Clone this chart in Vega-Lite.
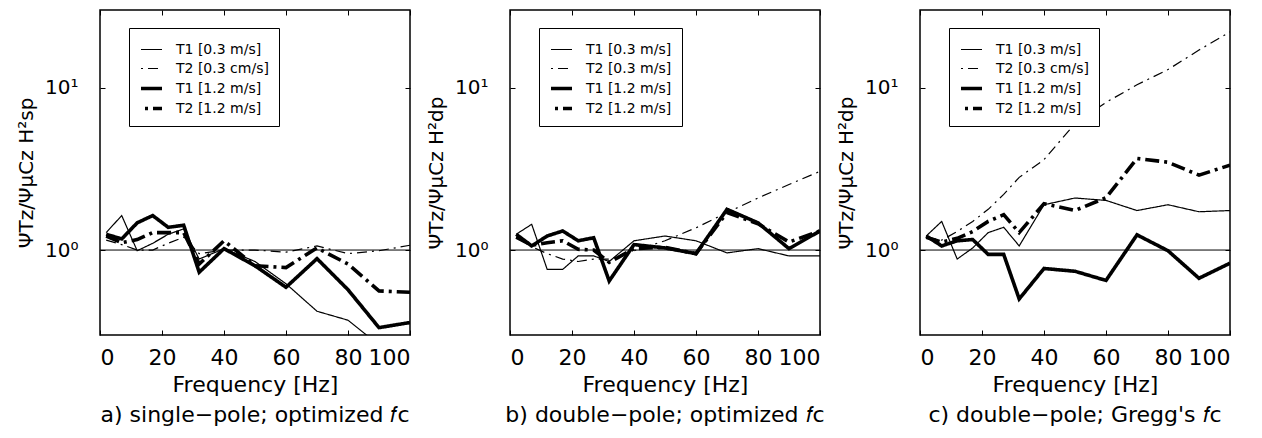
{
  "$schema": "https://vega.github.io/schema/vega-lite/v6.json",
  "padding": {"left": 15, "top": 8, "right": 5, "bottom": 2},
  "config": {
    "font": "DejaVu Sans",
    "view": {"stroke": "black", "strokeWidth": 1.5},
    "axis": {"grid": false, "domain": false, "tickColor": "black", "labelColor": "black", "titleColor": "black", "titleFontWeight": "normal", "labelFont": "DejaVu Sans", "titleFont": "DejaVu Sans"},
    "legend": {"title": null, "orient": "none", "legendX": 29, "legendY": 18, "strokeColor": "black", "fillColor": "white", "padding": 10, "symbolType": "stroke", "symbolSize": 441, "symbolStrokeColor": "black", "symbolDashOffset": 15, "labelFontSize": 14, "labelColor": "black", "labelOffset": 12, "rowPadding": -5},
    "title": {"fontSize": 22, "fontWeight": "normal", "color": "black", "font": "DejaVu Sans"}
  },
  "data": {"values": [
    {"panel":"a","series":"T1 [0.3 m/s]","f":2,"v":1.28},{"panel":"a","series":"T1 [0.3 m/s]","f":7,"v":1.63},{"panel":"a","series":"T1 [0.3 m/s]","f":12,"v":0.99},{"panel":"a","series":"T1 [0.3 m/s]","f":17,"v":1.1},{"panel":"a","series":"T1 [0.3 m/s]","f":22,"v":1.25},{"panel":"a","series":"T1 [0.3 m/s]","f":27,"v":1.35},{"panel":"a","series":"T1 [0.3 m/s]","f":32,"v":0.88},{"panel":"a","series":"T1 [0.3 m/s]","f":40,"v":1.02},{"panel":"a","series":"T1 [0.3 m/s]","f":50,"v":0.85},{"panel":"a","series":"T1 [0.3 m/s]","f":60,"v":0.62},{"panel":"a","series":"T1 [0.3 m/s]","f":70,"v":0.42},{"panel":"a","series":"T1 [0.3 m/s]","f":80,"v":0.37},{"panel":"a","series":"T1 [0.3 m/s]","f":90,"v":0.26},{"panel":"a","series":"T1 [0.3 m/s]","f":100,"v":0.2},
    {"panel":"a","series":"T2 [0.3 cm/s]","f":2,"v":1.15},{"panel":"a","series":"T2 [0.3 cm/s]","f":7,"v":1.08},{"panel":"a","series":"T2 [0.3 cm/s]","f":12,"v":1.0},{"panel":"a","series":"T2 [0.3 cm/s]","f":17,"v":1.0},{"panel":"a","series":"T2 [0.3 cm/s]","f":22,"v":1.1},{"panel":"a","series":"T2 [0.3 cm/s]","f":27,"v":1.2},{"panel":"a","series":"T2 [0.3 cm/s]","f":32,"v":0.95},{"panel":"a","series":"T2 [0.3 cm/s]","f":40,"v":1.0},{"panel":"a","series":"T2 [0.3 cm/s]","f":50,"v":1.0},{"panel":"a","series":"T2 [0.3 cm/s]","f":60,"v":0.97},{"panel":"a","series":"T2 [0.3 cm/s]","f":70,"v":1.06},{"panel":"a","series":"T2 [0.3 cm/s]","f":80,"v":0.95},{"panel":"a","series":"T2 [0.3 cm/s]","f":90,"v":0.99},{"panel":"a","series":"T2 [0.3 cm/s]","f":100,"v":1.07},
    {"panel":"a","series":"T1 [1.2 m/s]","f":2,"v":1.25},{"panel":"a","series":"T1 [1.2 m/s]","f":7,"v":1.17},{"panel":"a","series":"T1 [1.2 m/s]","f":12,"v":1.47},{"panel":"a","series":"T1 [1.2 m/s]","f":17,"v":1.63},{"panel":"a","series":"T1 [1.2 m/s]","f":22,"v":1.38},{"panel":"a","series":"T1 [1.2 m/s]","f":27,"v":1.42},{"panel":"a","series":"T1 [1.2 m/s]","f":32,"v":0.73},{"panel":"a","series":"T1 [1.2 m/s]","f":40,"v":1.02},{"panel":"a","series":"T1 [1.2 m/s]","f":50,"v":0.8},{"panel":"a","series":"T1 [1.2 m/s]","f":60,"v":0.59},{"panel":"a","series":"T1 [1.2 m/s]","f":70,"v":0.885},{"panel":"a","series":"T1 [1.2 m/s]","f":80,"v":0.57},{"panel":"a","series":"T1 [1.2 m/s]","f":90,"v":0.333},{"panel":"a","series":"T1 [1.2 m/s]","f":100,"v":0.358},
    {"panel":"a","series":"T2 [1.2 m/s]","f":2,"v":1.22},{"panel":"a","series":"T2 [1.2 m/s]","f":7,"v":1.11},{"panel":"a","series":"T2 [1.2 m/s]","f":12,"v":1.16},{"panel":"a","series":"T2 [1.2 m/s]","f":17,"v":1.28},{"panel":"a","series":"T2 [1.2 m/s]","f":22,"v":1.28},{"panel":"a","series":"T2 [1.2 m/s]","f":27,"v":1.28},{"panel":"a","series":"T2 [1.2 m/s]","f":32,"v":0.82},{"panel":"a","series":"T2 [1.2 m/s]","f":40,"v":1.14},{"panel":"a","series":"T2 [1.2 m/s]","f":50,"v":0.8},{"panel":"a","series":"T2 [1.2 m/s]","f":60,"v":0.78},{"panel":"a","series":"T2 [1.2 m/s]","f":70,"v":1.03},{"panel":"a","series":"T2 [1.2 m/s]","f":80,"v":0.82},{"panel":"a","series":"T2 [1.2 m/s]","f":90,"v":0.56},{"panel":"a","series":"T2 [1.2 m/s]","f":100,"v":0.55},
    {"panel":"b","series":"T1 [0.3 m/s]","f":2,"v":1.25},{"panel":"b","series":"T1 [0.3 m/s]","f":7,"v":1.44},{"panel":"b","series":"T1 [0.3 m/s]","f":12,"v":0.76},{"panel":"b","series":"T1 [0.3 m/s]","f":17,"v":0.76},{"panel":"b","series":"T1 [0.3 m/s]","f":22,"v":0.92},{"panel":"b","series":"T1 [0.3 m/s]","f":27,"v":0.92},{"panel":"b","series":"T1 [0.3 m/s]","f":32,"v":0.85},{"panel":"b","series":"T1 [0.3 m/s]","f":40,"v":1.14},{"panel":"b","series":"T1 [0.3 m/s]","f":50,"v":1.22},{"panel":"b","series":"T1 [0.3 m/s]","f":60,"v":1.14},{"panel":"b","series":"T1 [0.3 m/s]","f":70,"v":0.96},{"panel":"b","series":"T1 [0.3 m/s]","f":80,"v":1.02},{"panel":"b","series":"T1 [0.3 m/s]","f":90,"v":0.92},{"panel":"b","series":"T1 [0.3 m/s]","f":100,"v":0.92},
    {"panel":"b","series":"T2 [0.3 m/s]","f":2,"v":1.2},{"panel":"b","series":"T2 [0.3 m/s]","f":7,"v":1.05},{"panel":"b","series":"T2 [0.3 m/s]","f":12,"v":0.95},{"panel":"b","series":"T2 [0.3 m/s]","f":17,"v":0.88},{"panel":"b","series":"T2 [0.3 m/s]","f":22,"v":0.85},{"panel":"b","series":"T2 [0.3 m/s]","f":27,"v":0.88},{"panel":"b","series":"T2 [0.3 m/s]","f":32,"v":0.88},{"panel":"b","series":"T2 [0.3 m/s]","f":40,"v":0.99},{"panel":"b","series":"T2 [0.3 m/s]","f":50,"v":1.14},{"panel":"b","series":"T2 [0.3 m/s]","f":60,"v":1.37},{"panel":"b","series":"T2 [0.3 m/s]","f":70,"v":1.7},{"panel":"b","series":"T2 [0.3 m/s]","f":80,"v":2.09},{"panel":"b","series":"T2 [0.3 m/s]","f":90,"v":2.53},{"panel":"b","series":"T2 [0.3 m/s]","f":100,"v":3.05},
    {"panel":"b","series":"T1 [1.2 m/s]","f":2,"v":1.25},{"panel":"b","series":"T1 [1.2 m/s]","f":7,"v":1.06},{"panel":"b","series":"T1 [1.2 m/s]","f":12,"v":1.22},{"panel":"b","series":"T1 [1.2 m/s]","f":17,"v":1.31},{"panel":"b","series":"T1 [1.2 m/s]","f":22,"v":1.14},{"panel":"b","series":"T1 [1.2 m/s]","f":27,"v":1.19},{"panel":"b","series":"T1 [1.2 m/s]","f":32,"v":0.645},{"panel":"b","series":"T1 [1.2 m/s]","f":40,"v":1.08},{"panel":"b","series":"T1 [1.2 m/s]","f":50,"v":1.03},{"panel":"b","series":"T1 [1.2 m/s]","f":60,"v":0.95},{"panel":"b","series":"T1 [1.2 m/s]","f":70,"v":1.78},{"panel":"b","series":"T1 [1.2 m/s]","f":80,"v":1.47},{"panel":"b","series":"T1 [1.2 m/s]","f":90,"v":1.02},{"panel":"b","series":"T1 [1.2 m/s]","f":100,"v":1.31},
    {"panel":"b","series":"T2 [1.2 m/s]","f":2,"v":1.2},{"panel":"b","series":"T2 [1.2 m/s]","f":7,"v":1.07},{"panel":"b","series":"T2 [1.2 m/s]","f":12,"v":1.11},{"panel":"b","series":"T2 [1.2 m/s]","f":17,"v":1.14},{"panel":"b","series":"T2 [1.2 m/s]","f":22,"v":1.01},{"panel":"b","series":"T2 [1.2 m/s]","f":27,"v":1.0},{"panel":"b","series":"T2 [1.2 m/s]","f":32,"v":0.84},{"panel":"b","series":"T2 [1.2 m/s]","f":40,"v":1.02},{"panel":"b","series":"T2 [1.2 m/s]","f":50,"v":1.04},{"panel":"b","series":"T2 [1.2 m/s]","f":60,"v":0.95},{"panel":"b","series":"T2 [1.2 m/s]","f":70,"v":1.7},{"panel":"b","series":"T2 [1.2 m/s]","f":80,"v":1.45},{"panel":"b","series":"T2 [1.2 m/s]","f":90,"v":1.12},{"panel":"b","series":"T2 [1.2 m/s]","f":100,"v":1.31},
    {"panel":"c","series":"T1 [0.3 m/s]","f":2,"v":1.22},{"panel":"c","series":"T1 [0.3 m/s]","f":7,"v":1.5},{"panel":"c","series":"T1 [0.3 m/s]","f":12,"v":0.88},{"panel":"c","series":"T1 [0.3 m/s]","f":17,"v":1.03},{"panel":"c","series":"T1 [0.3 m/s]","f":22,"v":1.28},{"panel":"c","series":"T1 [0.3 m/s]","f":27,"v":1.38},{"panel":"c","series":"T1 [0.3 m/s]","f":32,"v":1.06},{"panel":"c","series":"T1 [0.3 m/s]","f":40,"v":1.9},{"panel":"c","series":"T1 [0.3 m/s]","f":50,"v":2.09},{"panel":"c","series":"T1 [0.3 m/s]","f":60,"v":2.02},{"panel":"c","series":"T1 [0.3 m/s]","f":70,"v":1.75},{"panel":"c","series":"T1 [0.3 m/s]","f":80,"v":1.9},{"panel":"c","series":"T1 [0.3 m/s]","f":90,"v":1.72},{"panel":"c","series":"T1 [0.3 m/s]","f":100,"v":1.75},
    {"panel":"c","series":"T2 [0.3 cm/s]","f":2,"v":1.2},{"panel":"c","series":"T2 [0.3 cm/s]","f":7,"v":1.15},{"panel":"c","series":"T2 [0.3 cm/s]","f":12,"v":1.3},{"panel":"c","series":"T2 [0.3 cm/s]","f":17,"v":1.5},{"panel":"c","series":"T2 [0.3 cm/s]","f":22,"v":1.78},{"panel":"c","series":"T2 [0.3 cm/s]","f":27,"v":2.2},{"panel":"c","series":"T2 [0.3 cm/s]","f":32,"v":2.8},{"panel":"c","series":"T2 [0.3 cm/s]","f":40,"v":3.6},{"panel":"c","series":"T2 [0.3 cm/s]","f":50,"v":6.0},{"panel":"c","series":"T2 [0.3 cm/s]","f":60,"v":8.1},{"panel":"c","series":"T2 [0.3 cm/s]","f":70,"v":10.4},{"panel":"c","series":"T2 [0.3 cm/s]","f":80,"v":12.9},{"panel":"c","series":"T2 [0.3 cm/s]","f":90,"v":17},{"panel":"c","series":"T2 [0.3 cm/s]","f":100,"v":22},
    {"panel":"c","series":"T1 [1.2 m/s]","f":2,"v":1.22},{"panel":"c","series":"T1 [1.2 m/s]","f":7,"v":1.06},{"panel":"c","series":"T1 [1.2 m/s]","f":12,"v":1.14},{"panel":"c","series":"T1 [1.2 m/s]","f":17,"v":1.16},{"panel":"c","series":"T1 [1.2 m/s]","f":22,"v":0.94},{"panel":"c","series":"T1 [1.2 m/s]","f":27,"v":0.94},{"panel":"c","series":"T1 [1.2 m/s]","f":32,"v":0.5},{"panel":"c","series":"T1 [1.2 m/s]","f":40,"v":0.77},{"panel":"c","series":"T1 [1.2 m/s]","f":50,"v":0.74},{"panel":"c","series":"T1 [1.2 m/s]","f":60,"v":0.65},{"panel":"c","series":"T1 [1.2 m/s]","f":70,"v":1.24},{"panel":"c","series":"T1 [1.2 m/s]","f":80,"v":0.99},{"panel":"c","series":"T1 [1.2 m/s]","f":90,"v":0.67},{"panel":"c","series":"T1 [1.2 m/s]","f":100,"v":0.83},
    {"panel":"c","series":"T2 [1.2 m/s]","f":2,"v":1.2},{"panel":"c","series":"T2 [1.2 m/s]","f":7,"v":1.12},{"panel":"c","series":"T2 [1.2 m/s]","f":12,"v":1.18},{"panel":"c","series":"T2 [1.2 m/s]","f":17,"v":1.3},{"panel":"c","series":"T2 [1.2 m/s]","f":22,"v":1.5},{"panel":"c","series":"T2 [1.2 m/s]","f":27,"v":1.65},{"panel":"c","series":"T2 [1.2 m/s]","f":32,"v":1.28},{"panel":"c","series":"T2 [1.2 m/s]","f":40,"v":1.93},{"panel":"c","series":"T2 [1.2 m/s]","f":50,"v":1.75},{"panel":"c","series":"T2 [1.2 m/s]","f":60,"v":2.1},{"panel":"c","series":"T2 [1.2 m/s]","f":70,"v":3.66},{"panel":"c","series":"T2 [1.2 m/s]","f":80,"v":3.47},{"panel":"c","series":"T2 [1.2 m/s]","f":90,"v":2.89},{"panel":"c","series":"T2 [1.2 m/s]","f":100,"v":3.33}
  ]},
  "spacing": 100,
  "bounds": "flush",
  "resolve": {"scale": {"strokeDash": "independent", "strokeWidth": "independent"}, "legend": {"strokeDash": "independent", "strokeWidth": "independent"}},
  "hconcat": [
    {
      "width": 310, "height": 325,
      "title": {"text": "a) single−pole; optimized 𝑓c", "orient": "bottom", "offset": 10},
      "resolve": {"axis": {"x": "independent", "y": "independent"}},
      "layer": [
        {"transform": [{"filter": "datum.panel == 'a'"}], "mark": {"type": "line", "clip": true, "color": "black"}, "encoding": {
          "x": {"field": "f", "type": "quantitative", "scale": {"domain": [0, 100], "nice": false}, "axis": {"orient": "bottom", "values": [0, 20, 40, 60, 80, 100], "title": "Frequency [Hz]", "labelFontSize": 22, "titleFontSize": 22, "tickSize": -5, "labelPadding": 17, "titlePadding": 6}},
          "y": {"field": "v", "type": "quantitative", "scale": {"type": "log", "domain": [0.3, 30], "nice": false}, "axis": {"orient": "left", "values": [1, 10], "labelExpr": "datum.value == 1 ? '10⁰' : '10¹'", "title": "ΨTz/ΨμCz H²sp", "titleFontSize": 20, "labelFontSize": 20, "tickSize": -5, "labelPadding": 27, "titlePadding": 8}},
          "strokeDash": {"field": "series", "type": "nominal", "scale": {"domain": ["T1 [0.3 m/s]", "T2 [0.3 cm/s]", "T1 [1.2 m/s]", "T2 [1.2 m/s]"], "range": [[1, 0], [10, 5, 2, 5], [1, 0], [14, 5, 3, 5]]}},
          "strokeWidth": {"field": "series", "type": "nominal", "scale": {"type": "ordinal", "domain": ["T1 [0.3 m/s]", "T2 [0.3 cm/s]", "T1 [1.2 m/s]", "T2 [1.2 m/s]"], "range": [1.2, 1.2, 3.6, 3.6]}}
        }},
        {"data": {"values": [{}]}, "mark": {"type": "rule", "color": "black", "strokeWidth": 1}, "encoding": {
          "y": {"datum": 1, "type": "quantitative", "axis": {"orient": "right", "values": [1, 10], "labels": false, "title": null, "tickSize": -5}},
          "x": {"datum": 0, "type": "quantitative", "axis": {"orient": "top", "values": [0, 20, 40, 60, 80, 100], "labels": false, "title": null, "tickSize": -5}},
          "x2": {"datum": 100}
        }}
      ]
    },
    {
      "width": 310, "height": 325,
      "title": {"text": "b) double−pole; optimized 𝑓c", "orient": "bottom", "offset": 10},
      "resolve": {"axis": {"x": "independent", "y": "independent"}},
      "layer": [
        {"transform": [{"filter": "datum.panel == 'b'"}], "mark": {"type": "line", "clip": true, "color": "black"}, "encoding": {
          "x": {"field": "f", "type": "quantitative", "scale": {"domain": [0, 100], "nice": false}, "axis": {"orient": "bottom", "values": [0, 20, 40, 60, 80, 100], "title": "Frequency [Hz]", "labelFontSize": 22, "titleFontSize": 22, "tickSize": -5, "labelPadding": 17, "titlePadding": 6}},
          "y": {"field": "v", "type": "quantitative", "scale": {"type": "log", "domain": [0.3, 30], "nice": false}, "axis": {"orient": "left", "values": [1, 10], "labelExpr": "datum.value == 1 ? '10⁰' : '10¹'", "title": "ΨTz/ΨμCz H²dp", "titleFontSize": 20, "labelFontSize": 20, "tickSize": -5, "labelPadding": 27, "titlePadding": 8}},
          "strokeDash": {"field": "series", "type": "nominal", "scale": {"domain": ["T1 [0.3 m/s]", "T2 [0.3 m/s]", "T1 [1.2 m/s]", "T2 [1.2 m/s]"], "range": [[1, 0], [10, 5, 2, 5], [1, 0], [14, 5, 3, 5]]}},
          "strokeWidth": {"field": "series", "type": "nominal", "scale": {"type": "ordinal", "domain": ["T1 [0.3 m/s]", "T2 [0.3 m/s]", "T1 [1.2 m/s]", "T2 [1.2 m/s]"], "range": [1.2, 1.2, 3.6, 3.6]}}
        }},
        {"data": {"values": [{}]}, "mark": {"type": "rule", "color": "black", "strokeWidth": 1}, "encoding": {
          "y": {"datum": 1, "type": "quantitative", "axis": {"orient": "right", "values": [1, 10], "labels": false, "title": null, "tickSize": -5}},
          "x": {"datum": 0, "type": "quantitative", "axis": {"orient": "top", "values": [0, 20, 40, 60, 80, 100], "labels": false, "title": null, "tickSize": -5}},
          "x2": {"datum": 100}
        }}
      ]
    },
    {
      "width": 310, "height": 325,
      "title": {"text": "c) double−pole; Gregg's 𝑓c", "orient": "bottom", "offset": 10},
      "resolve": {"axis": {"x": "independent", "y": "independent"}},
      "layer": [
        {"transform": [{"filter": "datum.panel == 'c'"}], "mark": {"type": "line", "clip": true, "color": "black"}, "encoding": {
          "x": {"field": "f", "type": "quantitative", "scale": {"domain": [0, 100], "nice": false}, "axis": {"orient": "bottom", "values": [0, 20, 40, 60, 80, 100], "title": "Frequency [Hz]", "labelFontSize": 22, "titleFontSize": 22, "tickSize": -5, "labelPadding": 17, "titlePadding": 6}},
          "y": {"field": "v", "type": "quantitative", "scale": {"type": "log", "domain": [0.3, 30], "nice": false}, "axis": {"orient": "left", "values": [1, 10], "labelExpr": "datum.value == 1 ? '10⁰' : '10¹'", "title": "ΨTz/ΨμCz H²dp", "titleFontSize": 20, "labelFontSize": 20, "tickSize": -5, "labelPadding": 27, "titlePadding": 8}},
          "strokeDash": {"field": "series", "type": "nominal", "scale": {"domain": ["T1 [0.3 m/s]", "T2 [0.3 cm/s]", "T1 [1.2 m/s]", "T2 [1.2 m/s]"], "range": [[1, 0], [10, 5, 2, 5], [1, 0], [14, 5, 3, 5]]}},
          "strokeWidth": {"field": "series", "type": "nominal", "scale": {"type": "ordinal", "domain": ["T1 [0.3 m/s]", "T2 [0.3 cm/s]", "T1 [1.2 m/s]", "T2 [1.2 m/s]"], "range": [1.2, 1.2, 3.6, 3.6]}}
        }},
        {"data": {"values": [{}]}, "mark": {"type": "rule", "color": "black", "strokeWidth": 1}, "encoding": {
          "y": {"datum": 1, "type": "quantitative", "axis": {"orient": "right", "values": [1, 10], "labels": false, "title": null, "tickSize": -5}},
          "x": {"datum": 0, "type": "quantitative", "axis": {"orient": "top", "values": [0, 20, 40, 60, 80, 100], "labels": false, "title": null, "tickSize": -5}},
          "x2": {"datum": 100}
        }}
      ]
    }
  ]
}
